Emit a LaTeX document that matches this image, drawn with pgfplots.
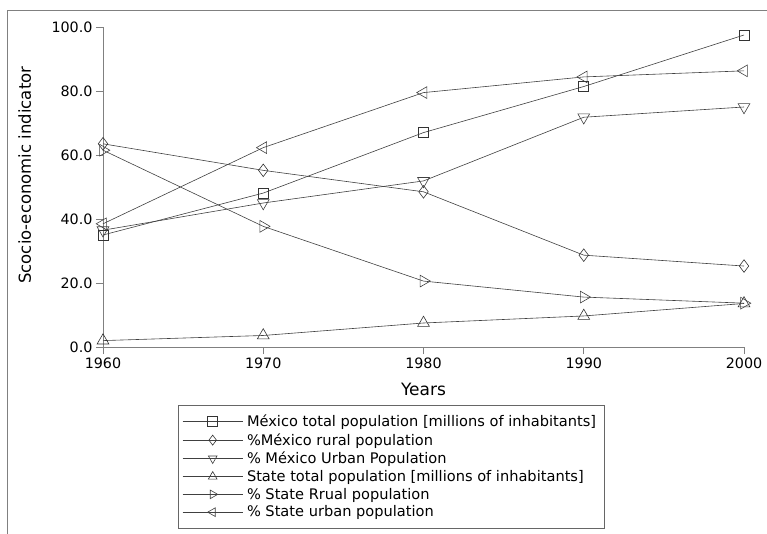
\documentclass[border=0pt]{standalone}
\usepackage{pgfplots}
\pgfplotsset{compat=1.18}
\usepackage{fontspec}
\setmainfont{DejaVu Sans}
\begin{document}
\begin{tikzpicture}
\path[use as bounding box] (-103pt,-187pt) rectangle (664pt,347pt);
\draw[gray, line width=0.8pt] (-96pt,-187pt) -- (-96pt,337pt) -- (664pt,337pt);
\begin{axis}[
  at={(0pt,0pt)}, anchor=south west,
  scale only axis, width=641pt, height=320pt,
  xmin=1960, xmax=2000, ymin=0, ymax=100,
  xtick={1960,1970,1980,1990,2000},
  ytick={0,20,40,60,80,100},
  axis x line=bottom, axis y line=left,
  axis line style={-, gray, line width=0.8pt},
  tick style={gray, line width=0.8pt},
  tick align=outside, major tick length=7pt,
  clip=false,
  /pgf/number format/assume math mode=true,
  xticklabel style={/pgf/number format/1000 sep={}, font=\fontsize{14.3}{16}\selectfont},
  yticklabel style={/pgf/number format/.cd, fixed, fixed zerofill, precision=1, /tikz/.cd, font=\fontsize{14.3}{16}\selectfont},
  xlabel={Years}, ylabel={Scocio-economic indicator},
  xlabel style={at={(axis description cs:0.5,-0.134)}, anchor=center, font=\fontsize{17}{20}\selectfont},
  ylabel style={at={(axis description cs:-0.122,0.537)}, anchor=center, font=\fontsize{16.5}{18}\selectfont},
  every axis plot/.append style={black!75, line width=0.6pt, mark size=6.8pt, mark options={solid, fill=white, draw=black!80, line width=0.6pt}},
  legend image code/.code={\draw[mark repeat=2, mark phase=2, mark size=5pt] plot coordinates {(0pt,0pt) (30pt,0pt) (60pt,0pt)};},
  legend style={at={(axis description cs:0.117,-0.182)}, anchor=north west, draw=black!60, line width=0.8pt, font=\fontsize{14.6}{16}\selectfont, row sep=1.2pt, inner xsep=4pt, inner ysep=7.5pt, nodes={inner xsep=4pt}},
  legend cell align=left,
]
\addplot[mark=square, mark size=5pt] coordinates {(1960,35.0) (1970,48.1) (1980,67.0) (1990,81.4) (2000,97.5)};
\addlegendentry{México total population [millions of inhabitants]}
\addplot[mark=diamond, mark size=6.3pt] coordinates {(1960,63.5) (1970,55.2) (1980,48.5) (1990,28.7) (2000,25.3)};
\addlegendentry{\%México rural population}
\addplot[mark=triangle, mark options={rotate=180}] coordinates {(1960,36.5) (1970,45.0) (1980,51.9) (1990,71.8) (2000,75.0)};
\addlegendentry{\% México Urban Population}
\addplot[mark=triangle] coordinates {(1960,2.0) (1970,3.6) (1980,7.5) (1990,9.7) (2000,13.6)};
\addlegendentry{State total population [millions of inhabitants]}
\addplot[mark=triangle, mark options={rotate=-90}] coordinates {(1960,61.5) (1970,37.7) (1980,20.6) (1990,15.6) (2000,13.7)};
\addlegendentry{\% State Rrual population}
\addplot[mark=triangle, mark options={rotate=90}] coordinates {(1960,38.5) (1970,62.3) (1980,79.5) (1990,84.4) (2000,86.3)};
\addlegendentry{\% State urban population}
\end{axis}
\end{tikzpicture}
\end{document}
